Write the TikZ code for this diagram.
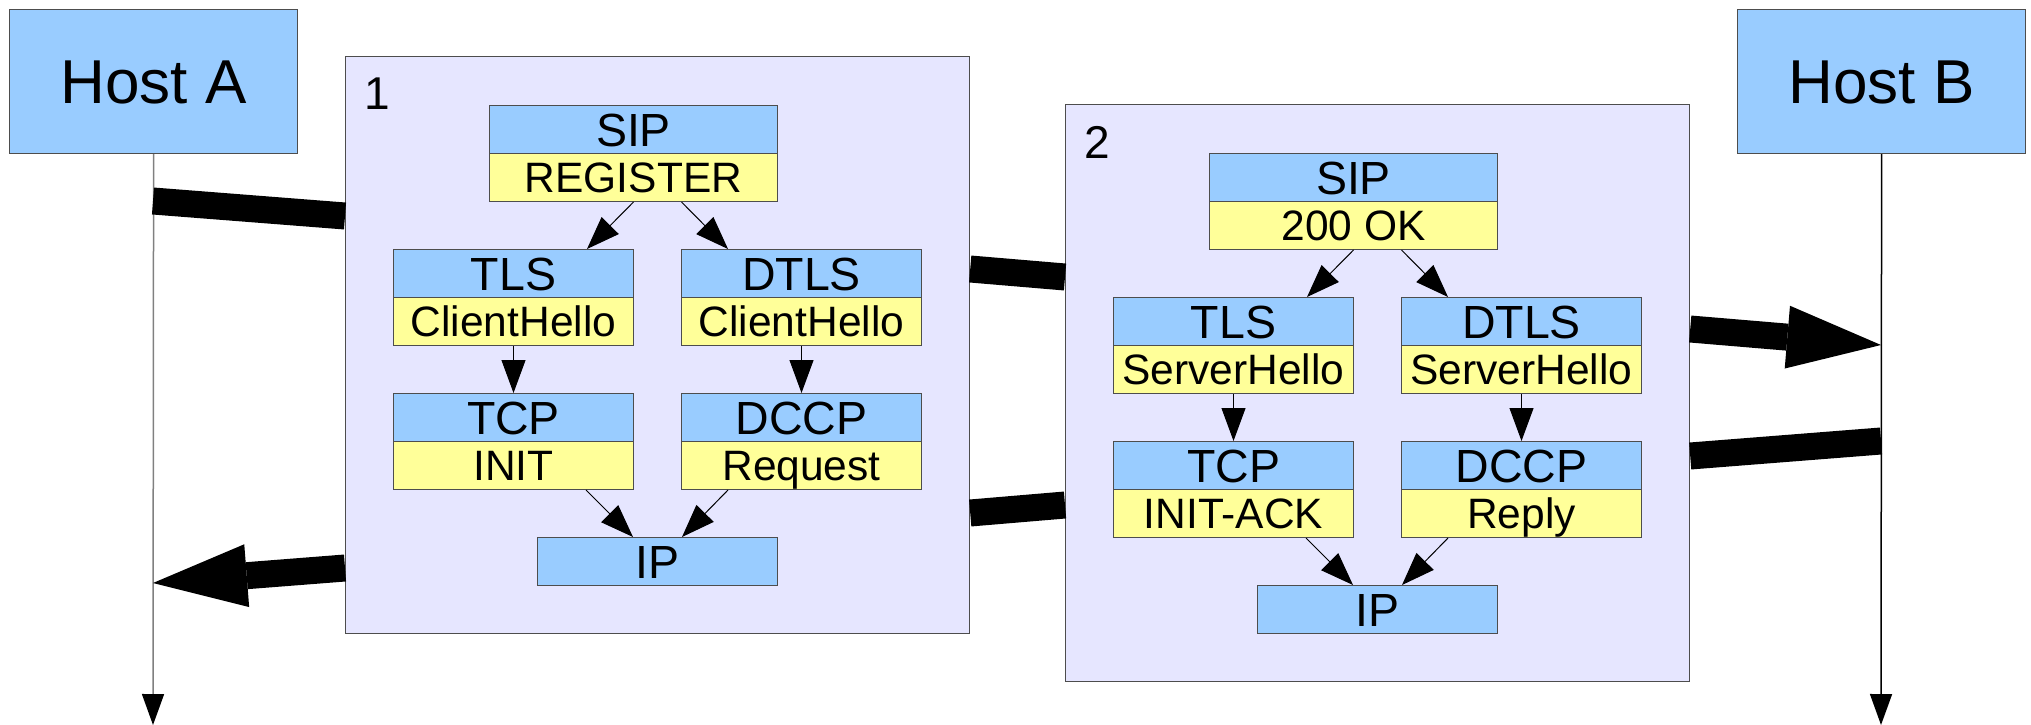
\documentclass[tikz,border=0pt]{standalone}
\usepackage{fontspec}
\setmainfont{Liberation Sans}
\usetikzlibrary{arrows.meta}
\definecolor{hdrblue}{HTML}{99CCFF}
\definecolor{msgyellow}{HTML}{FFFF99}
\definecolor{panebg}{HTML}{E6E6FF}
\definecolor{edgegray}{HTML}{4D4D4D}
\newcommand\hdrfont{\fontsize{46.5}{46.5}\selectfont}
\newcommand\msgfont{\fontsize{42.5}{42.5}\selectfont}
\begin{document}
\begin{tikzpicture}[x=1pt,y=-1pt,
  hostbox/.style={draw=edgegray, fill=hdrblue, line width=1.2pt, anchor=north west,
    minimum width=288pt, minimum height=144pt, inner sep=0pt,
    font=\fontsize{62}{62}\selectfont, text height=44pt, text depth=0pt},
  panebox/.style={draw=edgegray, fill=panebg, line width=1.2pt, anchor=north west,
    minimum width=624pt, minimum height=577pt, inner sep=0pt},
  cellh/.style={draw=edgegray, fill=hdrblue, line width=1pt, anchor=north west,
    minimum height=48pt, inner sep=0pt, font=\hdrfont, text height=33.5pt, text depth=0pt},
  cellb/.style={draw=edgegray, fill=msgyellow, line width=1pt, anchor=north west,
    minimum height=48pt, inner sep=0pt, font=\msgfont, text height=30.5pt, text depth=0pt},
  wide/.style={minimum width=288pt},
  narrow/.style={minimum width=240pt},
  numlabel/.style={font=\fontsize{46}{46}\selectfont, inner sep=0pt},
  thinarrow/.style={draw=black, line width=1pt, -{Triangle[length=33pt,width=24pt]}},
  lifeline/.style={line width=1.5pt, -{Triangle[length=31pt,width=22pt,color=black]}},
  band/.style={line width=27pt, line cap=butt},
  bandarrow/.style={band, -{Triangle[length=94pt,width=63pt,line width=0pt]}}
]
\useasboundingbox (0,0) rectangle (2031,725);

% hosts and lifelines
\node[hostbox] (hostA) at (9,9) {Host A};
\node[hostbox] (hostB) at (1737,9) {Host B};
\coordinate (endA) at (153,725);
\coordinate (endB) at (1881,725);
\draw[lifeline, draw=black!50] (hostA.south) -- (endA);
\draw[lifeline, draw=black] (hostB.south) -- (endB);

% pane 1
\node[panebox] (box1) at (345,56) {};
\node[numlabel] (n1) at (377,94) {1};
\node[cellh, wide] (sip1h) at (489,105) {SIP};
\node[cellb, wide] (sip1b) at (489,153) {REGISTER};
\node[cellh, narrow] (tls1h) at (393,249) {TLS};
\node[cellb, narrow] (tls1b) at (393,297) {ClientHello};
\node[cellh, narrow] (dtls1h) at (681,249) {DTLS};
\node[cellb, narrow] (dtls1b) at (681,297) {ClientHello};
\node[cellh, narrow] (tcp1h) at (393,393) {TCP};
\node[cellb, narrow] (tcp1b) at (393,441) {INIT};
\node[cellh, narrow] (dccp1h) at (681,393) {DCCP};
\node[cellb, narrow] (dccp1b) at (681,441) {Request};
\node[cellh, narrow] (ip1) at (537,537) {IP};
\draw[thinarrow] (sip1b.south) -- ([xshift=-47pt]tls1h.north east);
\draw[thinarrow] ([xshift=48pt]sip1b.south) -- ([xshift=47pt]dtls1h.north west);
\draw[thinarrow] (tls1b.south) -- (tcp1h.north);
\draw[thinarrow] (dtls1b.south) -- (dccp1h.north);
\draw[thinarrow] ([xshift=-48pt]tcp1b.south east) -- ([xshift=96pt]ip1.north west);
\draw[thinarrow] ([xshift=47pt]dccp1b.south west) -- ([xshift=-96pt]ip1.north east);

% pane 2
\node[panebox] (box2) at (1065,104) {};
\node[numlabel] (n2) at (1097,142) {2};
\node[cellh, wide] (sip2h) at (1209,153) {SIP};
\node[cellb, wide] (sip2b) at (1209,201) {200 OK};
\node[cellh, narrow] (tls2h) at (1113,297) {TLS};
\node[cellb, narrow] (tls2b) at (1113,345) {ServerHello};
\node[cellh, narrow] (dtls2h) at (1401,297) {DTLS};
\node[cellb, narrow] (dtls2b) at (1401,345) {ServerHello};
\node[cellh, narrow] (tcp2h) at (1113,441) {TCP};
\node[cellb, narrow] (tcp2b) at (1113,489) {INIT-ACK};
\node[cellh, narrow] (dccp2h) at (1401,441) {DCCP};
\node[cellb, narrow] (dccp2b) at (1401,489) {Reply};
\node[cellh, narrow] (ip2) at (1257,585) {IP};
\draw[thinarrow] (sip2b.south) -- ([xshift=-47pt]tls2h.north east);
\draw[thinarrow] ([xshift=48pt]sip2b.south) -- ([xshift=47pt]dtls2h.north west);
\draw[thinarrow] (tls2b.south) -- (tcp2h.north);
\draw[thinarrow] (dtls2b.south) -- (dccp2h.north);
\draw[thinarrow] ([xshift=-48pt]tcp2b.south east) -- ([xshift=96pt]ip2.north west);
\draw[thinarrow] ([xshift=47pt]dccp2b.south west) -- ([xshift=-96pt]ip2.north east);

% message bands
\coordinate (la1) at (153,201);
\coordinate (la2) at (153,583);
\coordinate (lb1) at (1881,345);
\coordinate (lb2) at (1881,441);
\draw[band] (la1) -- ([yshift=-160pt]box1.north west);
\draw[band] ([yshift=-213pt]box1.north east) -- ([yshift=-173pt]box2.north west);
\draw[bandarrow] ([yshift=-225pt]box2.north east) -- (lb1);
\draw[band] (lb2) -- ([yshift=-352pt]box2.north east);
\draw[band] ([yshift=-401pt]box2.north west) -- ([yshift=-457pt]box1.north east);
\draw[bandarrow] ([yshift=-512pt]box1.north west) -- (la2);
\end{tikzpicture}
\end{document}
